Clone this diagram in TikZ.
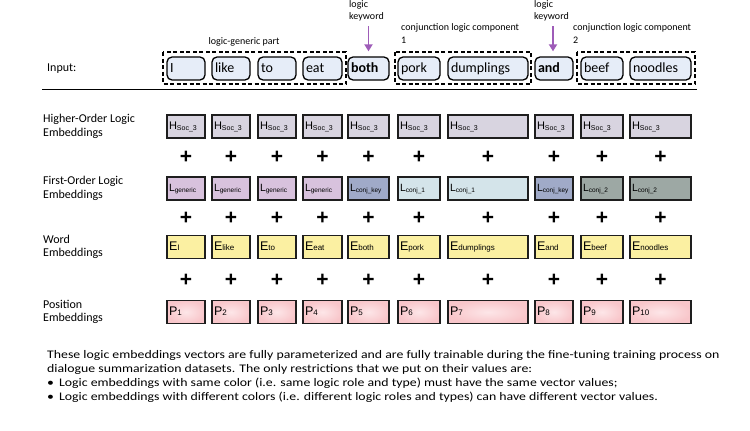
\documentclass[tikz,border=0pt]{standalone}
\usepackage{fontspec}
\setmainfont{Carlito}
\newfontfamily\arialf{Liberation Sans}
\newfontfamily\parfont[FakeStretch=1.19]{Carlito}
\usetikzlibrary{arrows.meta}
\definecolor{tokfill}{HTML}{E6EDF8}
\definecolor{hfill}{HTML}{D8D4E0}
\definecolor{lgen}{HTML}{D8C2DD}
\definecolor{lkey}{HTML}{A0AAC8}
\definecolor{lone}{HTML}{D4E4EA}
\definecolor{ltwo}{HTML}{9DA8A4}
\definecolor{efill}{HTML}{FBF0A2}
\definecolor{pout}{HTML}{F8C6CA}
\definecolor{pin}{HTML}{FDE6E8}
\definecolor{bord}{HTML}{1E1E1E}
\definecolor{arrcol}{HTML}{9E5CB8}
\newcommand{\embtxt}[4]{{\arialf\fontsize{#1}{#1}\selectfont #2\raisebox{-0.6pt}{\fontsize{#3}{#3}\selectfont #4}}}
\tikzset{
  tokbox/.style={draw=black, line width=1.3pt, rounded corners=5pt, fill=tokfill, minimum height=23pt, inner xsep=3pt, inner ysep=0pt, align=left, text height=10pt, text depth=3pt, font=\fontsize{14}{14}\selectfont},
  embbox/.style={draw=bord, line width=1.6pt, minimum height=23pt, inner xsep=2pt, inner ysep=0pt, align=left, text height=9pt, text depth=2.5pt},
  plus/.style={font=\arialf\bfseries\fontsize{21}{21}\selectfont, inner sep=0pt},
  rowlab/.style={anchor=west, align=left, font=\fontsize{12}{13.5}\selectfont, inner sep=0pt},
  annot/.style={align=left, font=\fontsize{10}{12.5}\selectfont, inner sep=0pt},
  grp/.style={draw=black, line width=1.8pt, dash pattern=on 4pt off 2.5pt},
  kwarrow/.style={draw=arrcol, line width=1.8pt, -{Triangle[length=7pt,width=8pt]}},
  partext/.style={anchor=base west, inner sep=0pt, font=\parfont\fontsize{11.6}{14}\selectfont}
}
\begin{document}
\begin{tikzpicture}[x=1pt,y=-1pt]
\useasboundingbox (0,0) rectangle (750,431);
% row labels
\node[rowlab] (linput) at (47,69) {Input:};
\node[rowlab] (lhigh) at (43,126.5) {Higher-Order Logic\\Embeddings};
\node[rowlab] (lfirst) at (43,188.5) {First-Order Logic\\Embeddings};
\node[rowlab] (lword) at (43,247) {Word\\Embeddings};
\node[rowlab] (lpos) at (43,312) {Position\\Embeddings};
% columns
\foreach [evaluate=\w as \tw using \w-6, evaluate=\w as \ew using \w-4] \i/\cx/\w/\tk/\lc/\ls/\es in {
 1/186/38/I/lgen/generic/I,
 2/231/38/like/lgen/generic/like,
 3/277/38/to/lgen/generic/to,
 4/322.5/39/eat/lgen/generic/eat,
 5/368.5/41/\textbf{both}/lkey/conj\_key/both,
 6/419/42/pork/lone/conj\_1/pork,
 7/488/80/dumplings/lone/conj\_1/dumplings,
 8/554/38/\textbf{and}/lkey/conj\_key/and,
 9/602/42/beef/ltwo/conj\_2/beef,
 10/660.5/61/noodles/ltwo/conj\_2/noodles}{
  \node[tokbox, text width=\tw pt] (t\i) at (\cx,68.5) {\tk};
  \node[embbox, fill=hfill, text width=\ew pt] (h\i) at (\cx,126.5) {\embtxt{11}{H}{7}{Soc\_3}};
  \node[plus] (pa\i) at (\cx,157) {+};
  \node[embbox, fill=\lc, text width=\ew pt] (l\i) at (\cx,188.5) {\embtxt{10.5}{L}{6.5}{\ls}};
  \node[plus] (pb\i) at (\cx,218) {+};
  \node[embbox, fill=efill, text width=\ew pt] (e\i) at (\cx,247) {\embtxt{12.5}{E}{8}{\es}};
  \node[plus] (pc\i) at (\cx,280) {+};
  \node[embbox, inner color=pin, outer color=pout, text width=\ew pt] (p\i) at (\cx,312) {\embtxt{12.5}{P}{8}{\i}};
}
% group boxes
\draw[grp] (163,52) rectangle (346,84);
\draw[grp] (395,52) rectangle (531,84);
\draw[grp] (577,52) rectangle (695,84);
% rule
\draw[line width=1.8pt] (42,89.5) -- (697,89.5);
% annotations
\node[annot, anchor=base] (agen) at (244,44) {logic-generic part};
\node[annot, anchor=north west] (kw1) at (349,0) {logic\\keyword};
\node[annot, anchor=north west] (kw2) at (534,0) {logic\\keyword};
\node[annot, anchor=north west] (c1) at (401,23.5) {conjunction logic component\\1};
\node[annot, anchor=north west] (c2) at (573,23.5) {conjunction logic component\\2};
\coordinate (a1s) at (368.5,26);
\coordinate (a2s) at (553,26);
\path (t5.north) ++(0,-5) coordinate (a1e);
\path (t8.north) ++(0,-5) coordinate (a2e);
\draw[kwarrow] (a1s) -- (a1e);
\draw[kwarrow] (a2s) -- (a2s |- a2e);
% paragraph
\node[partext] (par1) at (47,358.5) {These logic embeddings vectors are fully parameterized and are fully trainable during the fine-tuning training process on};
\node[partext] (par2) at (47,372.5) {dialogue summarization datasets. The only restrictions that we put on their values are:};
\node[partext] (par3) at (47,386.5) {\textbullet\hspace{5pt}Logic embeddings with same color (i.e. same logic role and type) must have the same vector values;};
\node[partext] (par4) at (47,400.5) {\textbullet\hspace{5pt}Logic embeddings with different colors (i.e. different logic roles and types) can have different vector values.};
\end{tikzpicture}
\end{document}
